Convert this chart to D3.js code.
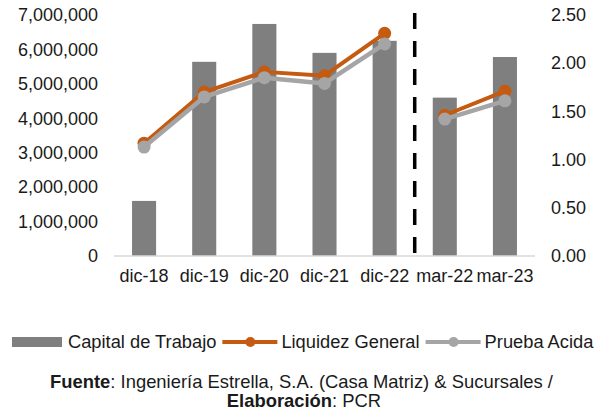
<!DOCTYPE html>
<html>
<head>
<meta charset="utf-8">
<script src="https://cdn.jsdelivr.net/npm/d3@7"></script>
<style>
  body { margin: 0; background: #fff; }
  svg { display: block; font-family: 'Liberation Sans', Arial, sans-serif; }
  .tick text { fill: #1a1a1a; font-size: 18px; }
</style>
</head>
<body>
<div id="chart"></div>
<script>
const periods = ['dic-18', 'dic-19', 'dic-20', 'dic-21', 'dic-22', 'mar-22', 'mar-23'];
const capitalTrabajo = [1600000, 5640000, 6740000, 5900000, 6250000, 4600000, 5780000];
const liquidezGeneral = [1.17, 1.70, 1.91, 1.87, 2.31, 1.46, 1.71];
const pruebaAcida = [1.13, 1.65, 1.85, 1.79, 2.20, 1.42, 1.61];
const leftTicks = [0, 1000000, 2000000, 3000000, 4000000, 5000000, 6000000, 7000000];
const rightTicks = [0, 0.5, 1, 1.5, 2, 2.5];
// annual periods and quarterly periods are drawn as separate line segments
const segments = [[0, 5], [5, 7]];

const w = 604, h = 415;
const plotLeft = 114, plotRight = 535, plotTop = 15, plotBottom = 256;

const svg = d3.select('#chart').append('svg').attr('width', w).attr('height', h);

const x = d3.scaleBand().domain(periods).range([plotLeft, plotRight]).paddingInner(0.6).paddingOuter(0.3);
const yL = d3.scaleLinear().domain([0, 7000000]).range([plotBottom, plotTop]);
const yR = d3.scaleLinear().domain([0, 2.5]).range([plotBottom, plotTop]);
const cx = d => x(d) + x.bandwidth() / 2;

// bars
svg.selectAll('rect.bar')
  .data(periods)
  .enter()
  .append('rect')
  .attr('class', 'bar')
  .attr('x', d => x(d))
  .attr('width', x.bandwidth())
  .attr('y', (d, i) => yL(capitalTrabajo[i]))
  .attr('height', (d, i) => plotBottom - yL(capitalTrabajo[i]))
  .attr('fill', '#7f7f7f');

// baseline
svg.append('line')
  .attr('x1', plotLeft).attr('x2', plotRight)
  .attr('y1', plotBottom).attr('y2', plotBottom)
  .attr('stroke', '#d9d9d9').attr('stroke-width', 1.5);

// dashed separator between annual and quarterly data
const sepX = x(periods[4]) + x.step() - x.step() * x.paddingInner() / 2;
svg.append('line')
  .attr('x1', sepX).attr('x2', sepX)
  .attr('y1', plotTop - 2).attr('y2', plotBottom)
  .attr('stroke', '#000').attr('stroke-width', 3.5)
  .attr('stroke-dasharray', '16,12');

function drawSeries(values, color, width, r) {
  const line = d3.line().x(d => cx(periods[d])).y(d => yR(values[d]));
  segments.forEach(s => {
    const idx = d3.range(s[0], s[1]);
    svg.append('path')
      .datum(idx)
      .attr('d', line)
      .attr('fill', 'none')
      .attr('stroke', color)
      .attr('stroke-width', width)
      .attr('stroke-linejoin', 'round');
  });
  svg.selectAll(null)
    .data(values)
    .enter()
    .append('circle')
    .attr('cx', (d, i) => cx(periods[i]))
    .attr('cy', d => yR(d))
    .attr('r', r)
    .attr('fill', color);
}
drawSeries(liquidezGeneral, '#c55a11', 4, 6.5);
drawSeries(pruebaAcida, '#a5a5a5', 4.5, 6.5);

// axes
svg.append('g')
  .attr('transform', 'translate(' + plotLeft + ',0)')
  .call(d3.axisLeft(yL).tickValues(leftTicks).tickFormat(d3.format(',')).tickSize(0).tickPadding(16))
  .call(g => g.select('.domain').remove());

svg.append('g')
  .attr('transform', 'translate(' + plotRight + ',0)')
  .call(d3.axisRight(yR).tickValues(rightTicks).tickFormat(d3.format('.2f')).tickSize(0).tickPadding(16))
  .call(g => g.select('.domain').remove());

svg.append('g')
  .attr('transform', 'translate(0,' + plotBottom + ')')
  .call(d3.axisBottom(x).tickSize(0).tickPadding(13))
  .call(g => g.select('.domain').remove());

// legend
const legend = svg.append('g').attr('transform', 'translate(12,342)');
let lx = 0;
legend.append('rect').attr('x', lx).attr('y', -5).attr('width', 50).attr('height', 10).attr('fill', '#7f7f7f');
lx += 56;
const legendItems = [
  { label: 'Capital de Trabajo', color: null },
  { label: 'Liquidez General', color: '#c55a11' },
  { label: 'Prueba Acida', color: '#a5a5a5' }
];
legendItems.forEach(item => {
  if (item.color) {
    legend.append('line').attr('x1', lx).attr('x2', lx + 55).attr('y1', 0).attr('y2', 0)
      .attr('stroke', item.color).attr('stroke-width', 4);
    legend.append('circle').attr('cx', lx + 28).attr('cy', 0).attr('r', 5).attr('fill', item.color);
    lx += 59;
  }
  const t = legend.append('text').attr('x', lx).attr('y', 6)
    .attr('font-size', 18.3).attr('fill', '#1a1a1a').text(item.label);
  lx += t.node().getComputedTextLength() + 6;
});

// source note
const note = svg.append('g').attr('font-size', 18.4).attr('fill', '#1a1a1a').attr('text-anchor', 'middle');
const n1 = note.append('text').attr('x', 301.5).attr('y', 388);
n1.append('tspan').attr('font-weight', 'bold').text('Fuente');
n1.append('tspan').text(': Ingeniería Estrella, S.A. (Casa Matriz) & Sucursales /');
const n2 = note.append('text').attr('x', 304).attr('y', 407);
n2.append('tspan').attr('font-weight', 'bold').text('Elaboración');
n2.append('tspan').text(': PCR');
</script>
</body>
</html>
